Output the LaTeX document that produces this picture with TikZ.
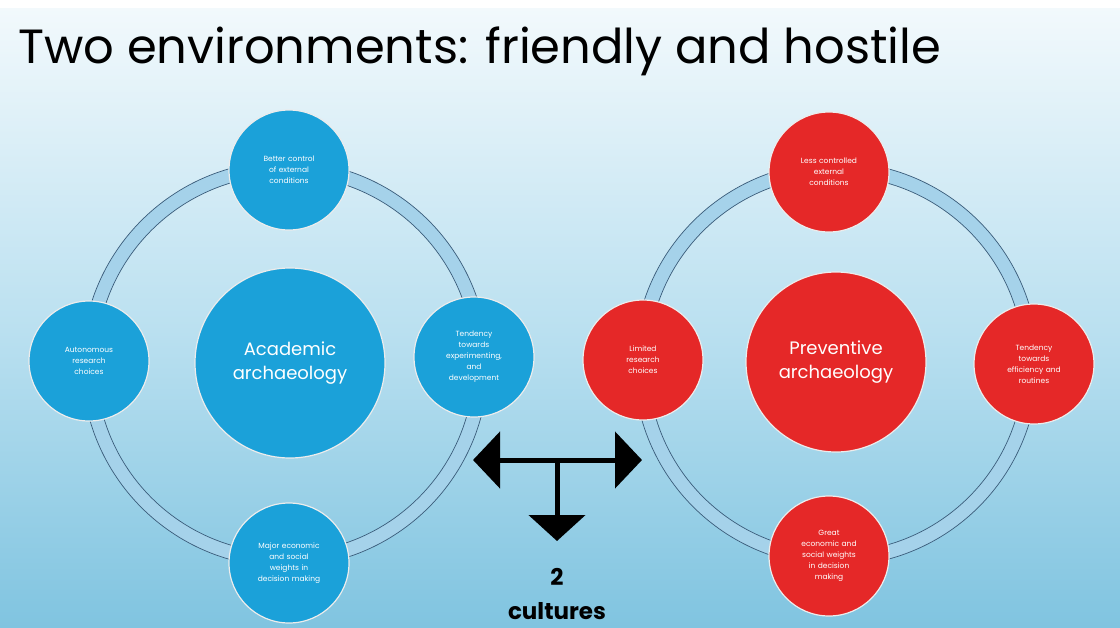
\documentclass[tikz,border=0pt]{standalone}
\usepackage{fontspec}
\setmainfont{Poppins}
\usetikzlibrary{arrows.meta}
\definecolor{bgtop}{RGB}{242,249,252}
\definecolor{bgmid}{RGB}{186,224,240}
\definecolor{bgbot}{RGB}{128,196,224}
\definecolor{acablue}{RGB}{27,161,217}
\definecolor{prered}{RGB}{229,40,40}
\definecolor{ringfill}{RGB}{165,210,234}
\definecolor{ringedge}{RGB}{58,92,122}
\tikzset{
  bubble/.style={circle, draw=white!85!gray, line width=1.2pt, minimum size=120pt,
    inner sep=0pt, text=white, align=center, font=\fontsize{7.5}{11}\selectfont, text width=84pt},
  hubbub/.style={circle, draw=white!85!gray, line width=1.2pt, inner sep=0pt,
    text=white, align=center, font=\fontsize{18}{24}\selectfont},
  ringband/.style={draw=ringfill, line width=14pt},
  ringline/.style={draw=ringedge, line width=0.7pt},
  bigarrow/.style={line width=5pt, black}
}
\begin{document}
\begin{tikzpicture}[x=1pt,y=-1pt]
\useasboundingbox (0,0) rectangle (1120,627);
% backdrop
\fill[white] (0,0) rectangle (1120,627);
\shade[top color=bgtop, bottom color=bgmid] (0,8) rectangle (1120,330);
\shade[top color=bgmid, bottom color=bgbot] (0,330) rectangle (1120,627);

% title
\node[anchor=base west, inner sep=0pt, font=\fontsize{48}{60}\selectfont] (title) at (18,63)
  {Two environments: friendly and hostile};

% ---- academic ring ----
\draw[ringband] (285,364) circle[radius=196];
\draw[ringline] (285,364) circle[radius=203];
\draw[ringline] (285,364) circle[radius=189];
\node[hubbub, fill=acablue, minimum size=190pt] (aca) at (290,363) {Academic\\archaeology};
\node[bubble, fill=acablue] (acat) at (289,170) {Better control\\of external\\conditions};
\node[bubble, fill=acablue] (acal) at (89,361) {Autonomous\\research\\choices};
\node[bubble, fill=acablue] (acar) at (474,357) {Tendency\\towards\\experimenting,\\and\\development};
\node[bubble, fill=acablue] (acab) at (289,563) {Major economic\\and social\\weights in\\decision making};

% ---- preventive ring ----
\draw[ringband] (836,364) circle[radius=195];
\draw[ringline] (836,364) circle[radius=202];
\draw[ringline] (836,364) circle[radius=188];
\node[hubbub, fill=prered, minimum size=180pt] (pre) at (836,362) {Preventive\\archaeology};
\node[bubble, fill=prered] (pret) at (829,172) {Less controlled\\external\\conditions};
\node[bubble, fill=prered] (prel) at (643,360) {Limited\\research\\choices};
\node[bubble, fill=prered] (prer) at (1034,364) {Tendency\\towards\\efficiency and\\routines};
\node[bubble, fill=prered] (preb) at (829,556) {Great\\economic and\\social weights\\in decision\\making};

% ---- branching arrow ----
\coordinate (hub) at (557,460);
\coordinate (tipl) at (473,460);
\coordinate (tipr) at (642,460);
\coordinate (tipd) at (557,541);
\draw[bigarrow, -{Triangle[length=27pt,width=56pt]}] (hub) -- (tipl);
\draw[bigarrow, -{Triangle[length=27pt,width=56pt]}] (hub) -- (tipr);
\draw[bigarrow, -{Triangle[length=26pt,width=56pt]}] (hub) -- (tipd);

\node[font=\fontsize{23}{26}\selectfont\bfseries] (two) at (557,577) {2};
\node[font=\fontsize{23}{26}\selectfont\bfseries] (cult) at (557,611) {cultures};
\end{tikzpicture}
\end{document}
